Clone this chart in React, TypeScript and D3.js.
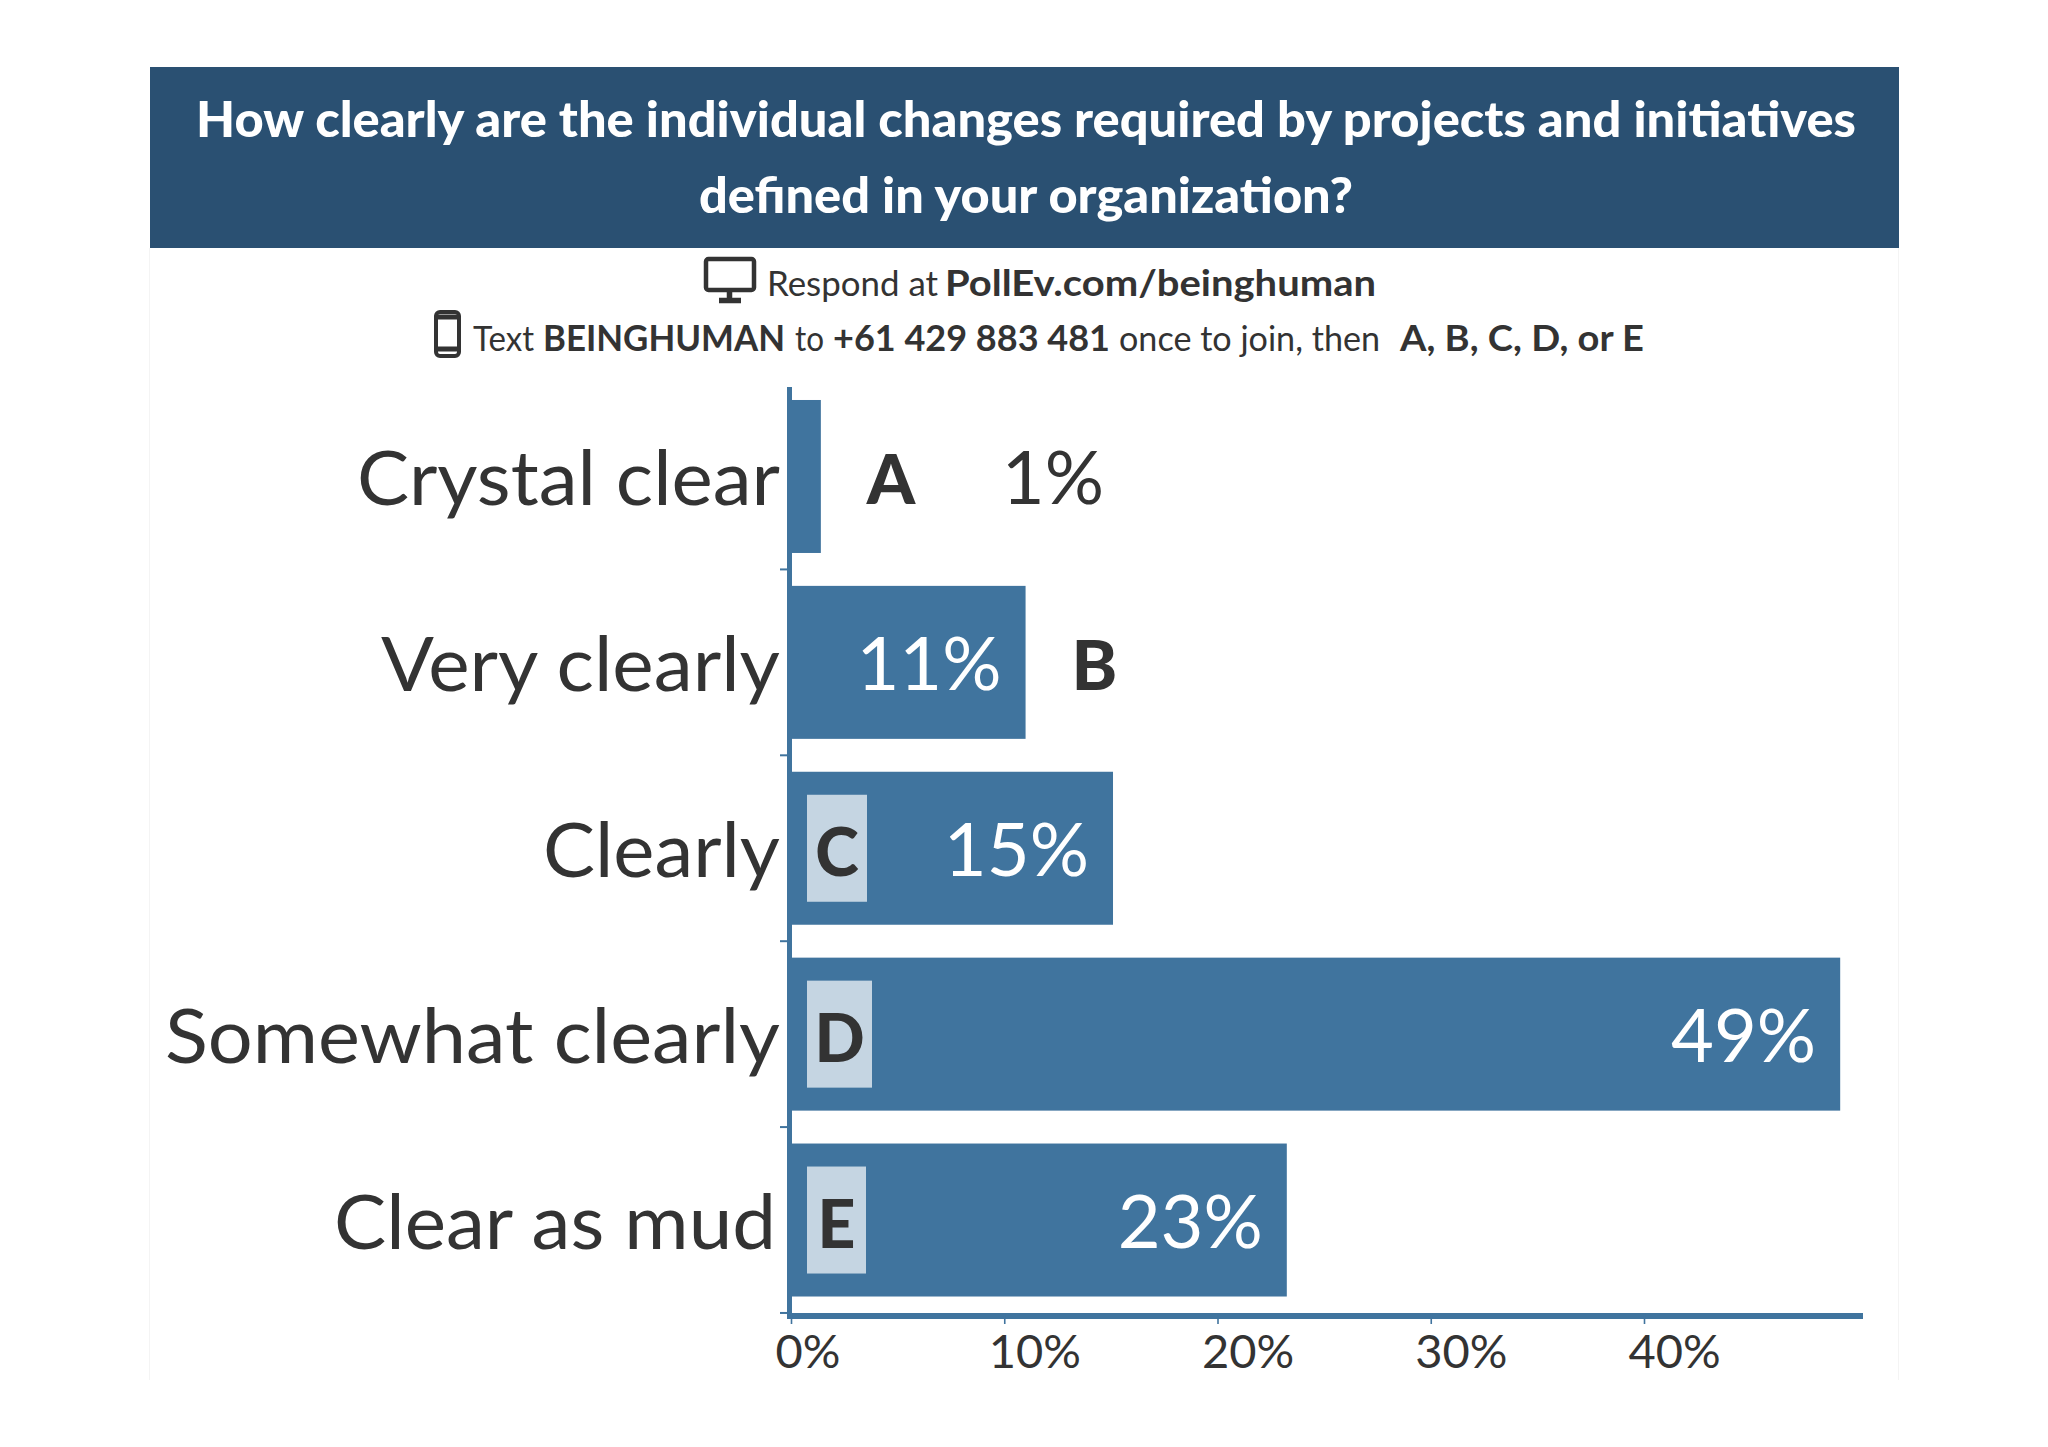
import * as React from 'react'
import { useEffect, useRef } from 'react'
import * as d3 from 'd3'

const categories = ['Crystal clear', 'Very clearly', 'Clearly', 'Somewhat clearly', 'Clear as mud']
const letters = ['A', 'B', 'C', 'D', 'E']
const values = [1.4, 11, 15.1, 49.2, 23.25]
const valueLabels = ['1%', '11%', '15%', '49%', '23%']
const xTicks = [0, 10, 20, 30, 40]

const titleLines = [
  'How clearly are the individual changes required by projects and initiatives',
  'defined in your organization?',
]

const FONT = 'Lato, "Noto Sans", sans-serif'
const DARK = '#333333'
const BAR = '#40749e'
const HEADER = '#2a5072'
const BOX = '#c5d5e2'

// letter chip widths inside the bars
const chipWidth: Record<string, number> = { C: 60, D: 65, E: 59 }

function Fit({ x, y, w, size, weight = 400, fill = DARK, children }: any) {
  return (
    <text
      x={x}
      y={y}
      textLength={w}
      lengthAdjust="spacingAndGlyphs"
      fontSize={size}
      fontWeight={weight}
      fill={fill}
      fontFamily={FONT}
    >
      {children}
    </text>
  )
}

export default function App() {
  const axisRef = useRef<SVGGElement>(null)

  const x = d3.scaleLinear().domain([0, 40]).range([791, 1644])
  const y = d3.scaleBand<string>()
    .domain(categories)
    .range([383.5, 1313])
    .paddingInner(0.177)
    .paddingOuter(0.0887)
  const band = y.bandwidth()
  const step = y.step()

  useEffect(() => {
    if (!axisRef.current) return
    const g = d3.select(axisRef.current)
    g.selectAll('*').remove()
    g.call(
      d3.axisBottom(x)
        .tickValues(xTicks)
        .tickSize(11)
        .tickSizeOuter(0)
        .tickFormat(d => `${d}%`) as any
    )
    g.select('.domain').remove()
    g.selectAll('.tick line').attr('stroke', BAR).attr('stroke-width', 1.6)
    g.selectAll('.tick text')
      .attr('text-anchor', 'start')
      .attr('dx', -16)
      .attr('y', 0)
      .attr('dy', 55)
      .attr('font-family', FONT)
      .attr('font-size', 47)
      .attr('font-weight', 400)
      .attr('fill', DARK)
  }, [])

  const labelStarts = [357, 381, 543, 165, 334]
  const labelEnds = [780, 780, 780, 780, 776]

  return (
    <svg
      width={2048}
      height={1447}
      style={{ position: 'absolute', left: 0, top: 0, background: '#fff' }}
    >
      <path d="M149.5 248 V1380 M1898.5 248 V1380" fill="none" stroke="#f4f4f4" />
      <rect x={150} y={67} width={1749} height={181} fill={HEADER} />

      <Fit x={196} y={137} w={1660} size={49} weight={900} fill="#fff">{titleLines[0]}</Fit>
      <Fit x={699} y={213} w={654} size={49} weight={900} fill="#fff">{titleLines[1]}</Fit>

      {/* monitor icon */}
      <g fill="none" stroke={DARK}>
        <rect x={706} y={259} width={48} height={31} rx={2.5} strokeWidth={4.5} />
        <path d="M729.5 291 V300 M719 300.5 H741" strokeWidth={5.5} />
      </g>
      {/* phone icon */}
      <g fill="none" stroke={DARK}>
        <rect x={436} y={312} width={23} height={44} rx={4} strokeWidth={4} />
        <path d="M436 317 H459 M436 349 H459" strokeWidth={5} />
      </g>

      <Fit x={767} y={296} w={171} size={34} weight={400}>Respond at</Fit>
      <Fit x={945} y={296} w={431} size={36} weight={700}>PollEv.com/beinghuman</Fit>

      <Fit x={473} y={351} w={61} size={34} weight={400}>Text</Fit>
      <Fit x={543} y={351} w={242} size={36} weight={700}>BEINGHUMAN</Fit>
      <Fit x={795} y={351} w={29} size={34} weight={400}>to</Fit>
      <Fit x={833} y={351} w={277} size={36} weight={700}>+61 429 883 481</Fit>
      <Fit x={1119} y={351} w={261} size={34} weight={400}>once to join, then</Fit>
      <Fit x={1400} y={351} w={244} size={36} weight={700}>A, B, C, D, or E</Fit>

      {categories.map((c, i) => {
        const top = y(c)!
        const mid = top + band / 2
        const end = x(values[i])
        const inside = values[i] > 12
        const lw = chipWidth[letters[i]] ?? 0
        return (
          <g key={c}>
            <Fit x={labelStarts[i]} y={mid + 29} w={labelEnds[i] - labelStarts[i]} size={76} weight={400}>{c}</Fit>
            <rect x={x(0)} y={top} width={end - x(0)} height={band} fill={BAR} />
            {inside ? (
              <g>
                <rect x={807} y={top + 23} width={lw} height={107} fill={BOX} />
                <text
                  x={807 + lw / 2}
                  y={mid + 28}
                  textAnchor="middle"
                  fontSize={66}
                  fontWeight={900}
                  fill={DARK}
                  fontFamily={FONT}
                >
                  {letters[i]}
                </text>
              </g>
            ) : (
              <text
                x={end + 46}
                y={mid + 28}
                fontSize={69}
                fontWeight={900}
                fill={DARK}
                fontFamily={FONT}
              >
                {letters[i]}
              </text>
            )}
            <text
              x={values[i] > 5 ? end - 24 : 1104}
              y={mid + 28}
              textAnchor="end"
              fontSize={74}
              fontWeight={400}
              fill={values[i] > 5 ? '#fff' : DARK}
              fontFamily={FONT}
            >
              {valueLabels[i]}
            </text>
            <line
              x1={780}
              x2={788}
              y1={top + band + (step - band) / 2}
              y2={top + band + (step - band) / 2}
              stroke={BAR}
              strokeWidth={2}
            />
          </g>
        )
      })}

      {/* axis lines */}
      <rect x={787} y={387} width={5} height={932} fill={BAR} />
      <rect x={787} y={1313} width={1076} height={6} fill={BAR} />
      <g ref={axisRef} transform="translate(0, 1313)" />
    </svg>
  )
}
